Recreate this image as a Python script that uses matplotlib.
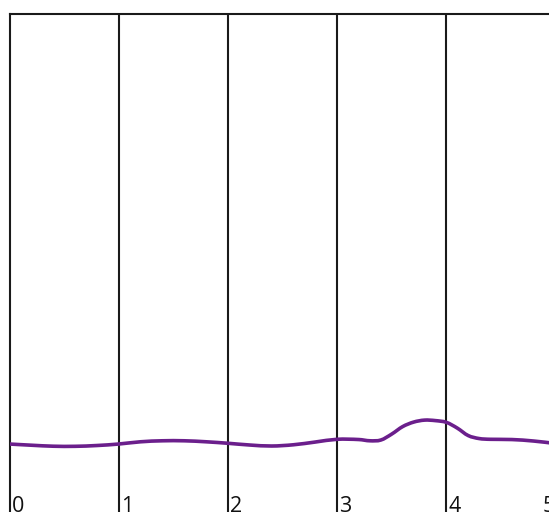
import matplotlib
matplotlib.use("Agg")
import matplotlib.pyplot as plt
import matplotlib.transforms as mtransforms
from matplotlib.path import Path
from matplotlib.patches import PathPatch

# Data
x_values = [0.0, 0.2, 0.4, 0.6, 0.8, 1.0, 1.2, 1.4, 1.6, 1.8, 2.0, 2.2, 2.4, 2.6, 2.8,
            3.0, 3.2, 3.3, 3.4, 3.5, 3.6, 3.7, 3.8, 3.9, 4.0, 4.1, 4.2, 4.3, 4.4, 4.6,
            4.8, 5.0]
y_values = [13.65, 13.41, 13.21, 13.19, 13.35, 13.65, 14.1, 14.3, 14.3, 14.1, 13.8, 13.45,
            13.25, 13.5, 14.05, 14.6, 14.55, 14.3, 14.45, 15.65, 17.15, 18.05, 18.45,
            18.35, 18.0, 16.85, 15.35, 14.75, 14.6, 14.55, 14.25, 13.75]
tick_values = [0, 1, 2, 3, 4, 5]
tick_labels = ["0", "1", "2", "3", "4", "5"]

W, H = 549, 512
fig = plt.figure(figsize=(W / 100, H / 100), dpi=100)
left_px, top_px = 9.5, 14
ax = fig.add_axes([left_px / W, 0, 1 - left_px / W, (H - top_px) / H])
x_max = 4.94
ax.set_xlim(0, x_max)
ax.set_ylim(0, 100)

# smooth (cubic Hermite) path through the data points
n = len(x_values)
slopes = []
for i in range(n):
    a = max(i - 1, 0)
    b = min(i + 1, n - 1)
    slopes.append((y_values[b] - y_values[a]) / (x_values[b] - x_values[a]))
verts = [(x_values[0], y_values[0])]
codes = [Path.MOVETO]
for i in range(n - 1):
    dx = x_values[i + 1] - x_values[i]
    verts += [(x_values[i] + dx / 3, y_values[i] + slopes[i] * dx / 3),
              (x_values[i + 1] - dx / 3, y_values[i + 1] - slopes[i + 1] * dx / 3),
              (x_values[i + 1], y_values[i + 1])]
    codes += [Path.CURVE4] * 3
ax.add_patch(PathPatch(Path(verts, codes), facecolor="none", edgecolor="#6b1f8c",
                       lw=2.6, capstyle="round", joinstyle="round", zorder=3))

for v in tick_values[1:]:
    ax.axvline(v, color="#1a1a1a", lw=1.5, zorder=2)

for s in ["right", "bottom"]:
    ax.spines[s].set_visible(False)
for s in ["top", "left"]:
    ax.spines[s].set_color("#1a1a1a")
    ax.spines[s].set_linewidth(1.5)

ax.set_xticks([])
ax.set_yticks([])

trans = mtransforms.blended_transform_factory(ax.transData, ax.transAxes)
offset = mtransforms.ScaledTranslation(2.0 / 100, 0, fig.dpi_scale_trans)
for v, lab in zip(tick_values, tick_labels):
    if v <= x_max - 0.1:
        ax.text(v, 0.0, lab, transform=trans + offset, ha="left", va="baseline",
                fontsize=15.5, family=["Open Sans", "DejaVu Sans"], color="#111111",
                clip_on=False)
    else:
        ax.text(0.989, 0.0, lab, transform=ax.transAxes, ha="left", va="baseline",
                fontsize=15.5, family=["Open Sans", "DejaVu Sans"], color="#111111",
                clip_on=False)

fig.savefig("out.png", dpi=100)
